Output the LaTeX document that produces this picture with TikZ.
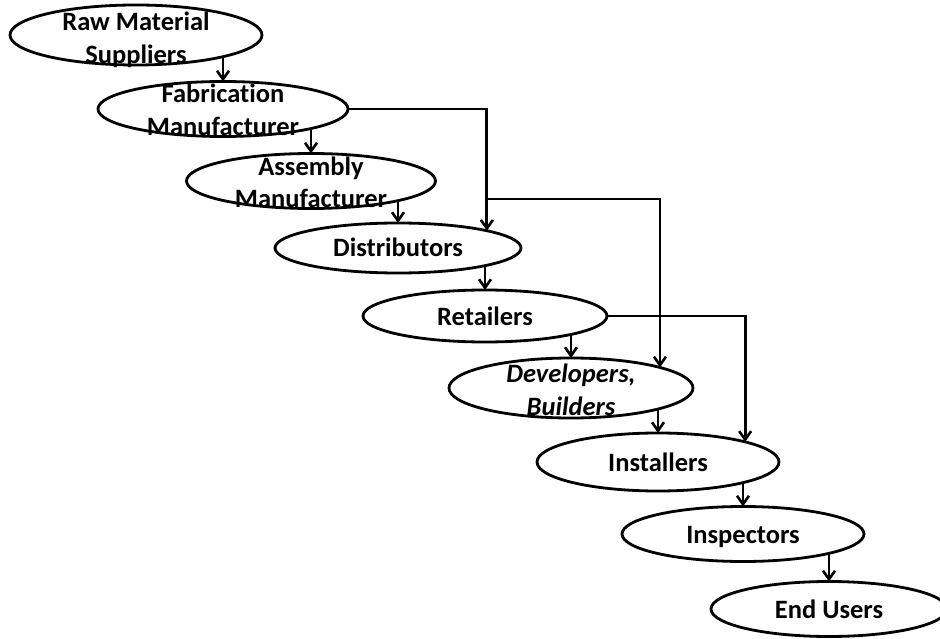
\documentclass[tikz,border=0pt]{standalone}
\usepackage{fontspec}
\setmainfont{Carlito}[Ligatures=CommonOff]
\usetikzlibrary{shapes.geometric,arrows.meta}
\pgfdeclarelayer{background}
\pgfsetlayers{background,main}
\begin{document}
\begin{tikzpicture}[x=1pt,y=-1pt,
  ell/.style={ellipse,draw,line width=2.8pt,fill=white,inner sep=0pt,outer sep=0pt},
  lbl/.style={align=center,inner sep=0pt,font=\fontsize{26.5}{32.5}\selectfont\bfseries},
  arr/.style={line width=2.8pt,-{Straight Barb[length=8.5pt,width=12pt,line width=2.6pt]}}]
\useasboundingbox (0,0) rectangle (940,639);
\node[ell,minimum width=252pt,minimum height=60pt] (raw) at (136,35) {};
\node[lbl] (rawT) at (136,40) {Raw Material\\Suppliers};
\node[ell,minimum width=250pt,minimum height=55pt] (fab) at (223,109) {};
\node[lbl] (fabT) at (223,110) {Fabrication\\Manufacturer};
\node[ell,minimum width=249pt,minimum height=55pt] (asm) at (311,181) {};
\node[lbl] (asmT) at (311,182.5) {Assembly\\Manufacturer};
\node[ell,minimum width=246pt,minimum height=50pt] (dist) at (398,248) {};
\node[lbl,anchor=base] (distT) at (398,257) {Distributors};
\node[ell,minimum width=244pt,minimum height=52pt] (ret) at (485,316) {};
\node[lbl,anchor=base] (retT) at (485,325) {Retailers};
\node[ell,minimum width=244pt,minimum height=60pt] (dev) at (571,388) {};
\node[lbl] (devT) at (571,390) {\itshape Developers,\\\itshape Builders};
\node[ell,minimum width=242pt,minimum height=58pt] (inst) at (658,462) {};
\node[lbl,anchor=base] (instT) at (658,471) {Installers};
\node[ell,minimum width=242pt,minimum height=55pt] (insp) at (743,534) {};
\node[lbl,anchor=base] (inspT) at (743,543) {Inspectors};
\node[ell,minimum width=236pt,minimum height=55pt] (end) at (829,609) {};
\node[lbl,anchor=base] (endT) at (829,618) {End Users};
\begin{pgfonlayer}{background}
\draw[arr] (raw.center -| fab.north) -- (fab.north);
\draw[arr] (fab.center -| asm.north) -- (asm.north);
\draw[arr] (asm.center -| dist.north) -- (dist.north);
\draw[arr] (dist.center -| ret.north) -- (ret.north);
\draw[arr] (ret.center -| dev.north) -- (dev.north);
\draw[arr] (dev.center -| inst.north) -- (inst.north);
\draw[arr] (inst.center -| insp.north) -- (insp.north);
\draw[arr] (insp.center -| end.north) -- (end.north);
\end{pgfonlayer}
\draw[arr] (fab.east) -| (dist.11.5);
\coordinate (j) at (dist.11.5 |- 0,199);
\draw[arr] (j) -| (dev.13.6);
\draw[arr] (ret.east) -| (inst.13.6);
\end{tikzpicture}
\end{document}
